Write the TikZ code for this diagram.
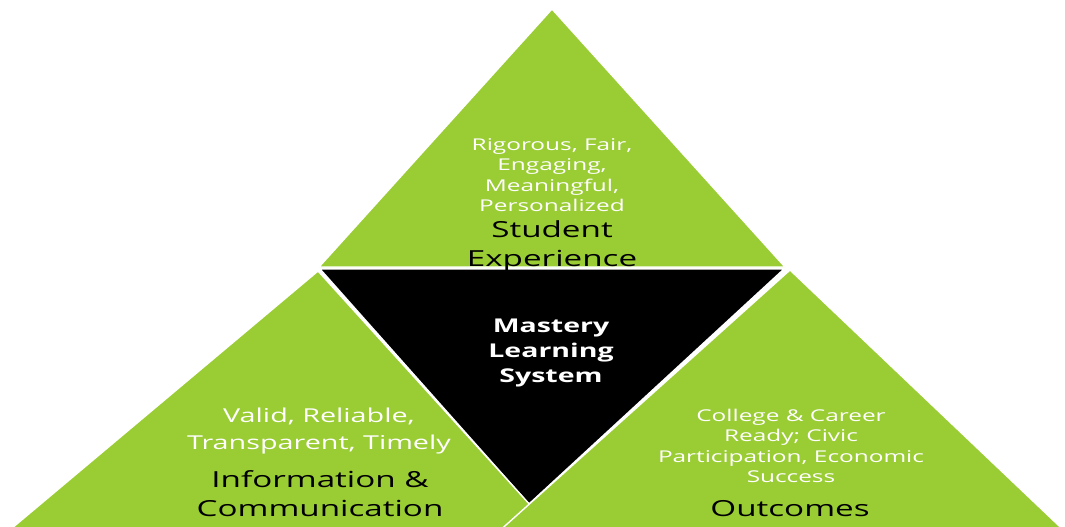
\documentclass[tikz,border=0pt]{standalone}
\usepackage{fontspec}
\setmainfont{Open Sans}[FakeStretch=1.5]
\definecolor{leafgreen}{RGB}{154,204,52}
\tikzset{
    facet/.style={fill=leafgreen, draw=white, line width=0.8pt, line join=miter},
    hub/.style={fill=black, draw=white, line width=0.8pt},
    quality/.style={text=white, align=center, inner sep=0pt, font=\fontsize{9.25}{11.6}\selectfont},
    qualitybig/.style={text=white, align=center, inner sep=0pt, font=\fontsize{10.9}{15}\selectfont},
    pillar/.style={text=black, align=center, inner sep=0pt, font=\fontsize{12.6}{16.6}\selectfont},
    core/.style={text=white, align=center, inner sep=0pt, font=\bfseries\fontsize{10.8}{14.1}\selectfont}
}
\begin{document}
\begin{tikzpicture}[x=0.02cm, y=-0.02cm]
        \useasboundingbox (0,0) rectangle (1065,527);
        \clip (0,0) rectangle (1065,527);
        % top facet
        \filldraw[facet] (319,267) -- (785,267) -- (552,9) -- cycle;
        % centre
        \filldraw[hub] (320,269) -- (784,269) -- (529,504) -- cycle;
        % bottom facets
        \filldraw[facet] (318,271) -- (-26,560) -- (580,560) -- cycle;
        \filldraw[facet] (790,270) -- (467,560) -- (1095,560) -- cycle;

        \node[quality] (rigor) at (552,175) {Rigorous, Fair,\\Engaging,\\Meaningful,\\Personalized};
        \node[pillar] (student) at (552,246) {Student\\Experience};
        \node[core] (mastery) at (551,353) {Mastery\\Learning\\System};
        \node[qualitybig] (valid) at (319,431) {Valid, Reliable,\\Transparent, Timely};
        \node[pillar] (info) at (320,494) {Information \&\\Communication};
        \node[quality] (ready) at (791,446) {College \& Career\\Ready; Civic\\Participation, Economic\\Success};
        \node[pillar] (outcomes) at (790,509) {Outcomes};
    \end{tikzpicture}
\end{document}
